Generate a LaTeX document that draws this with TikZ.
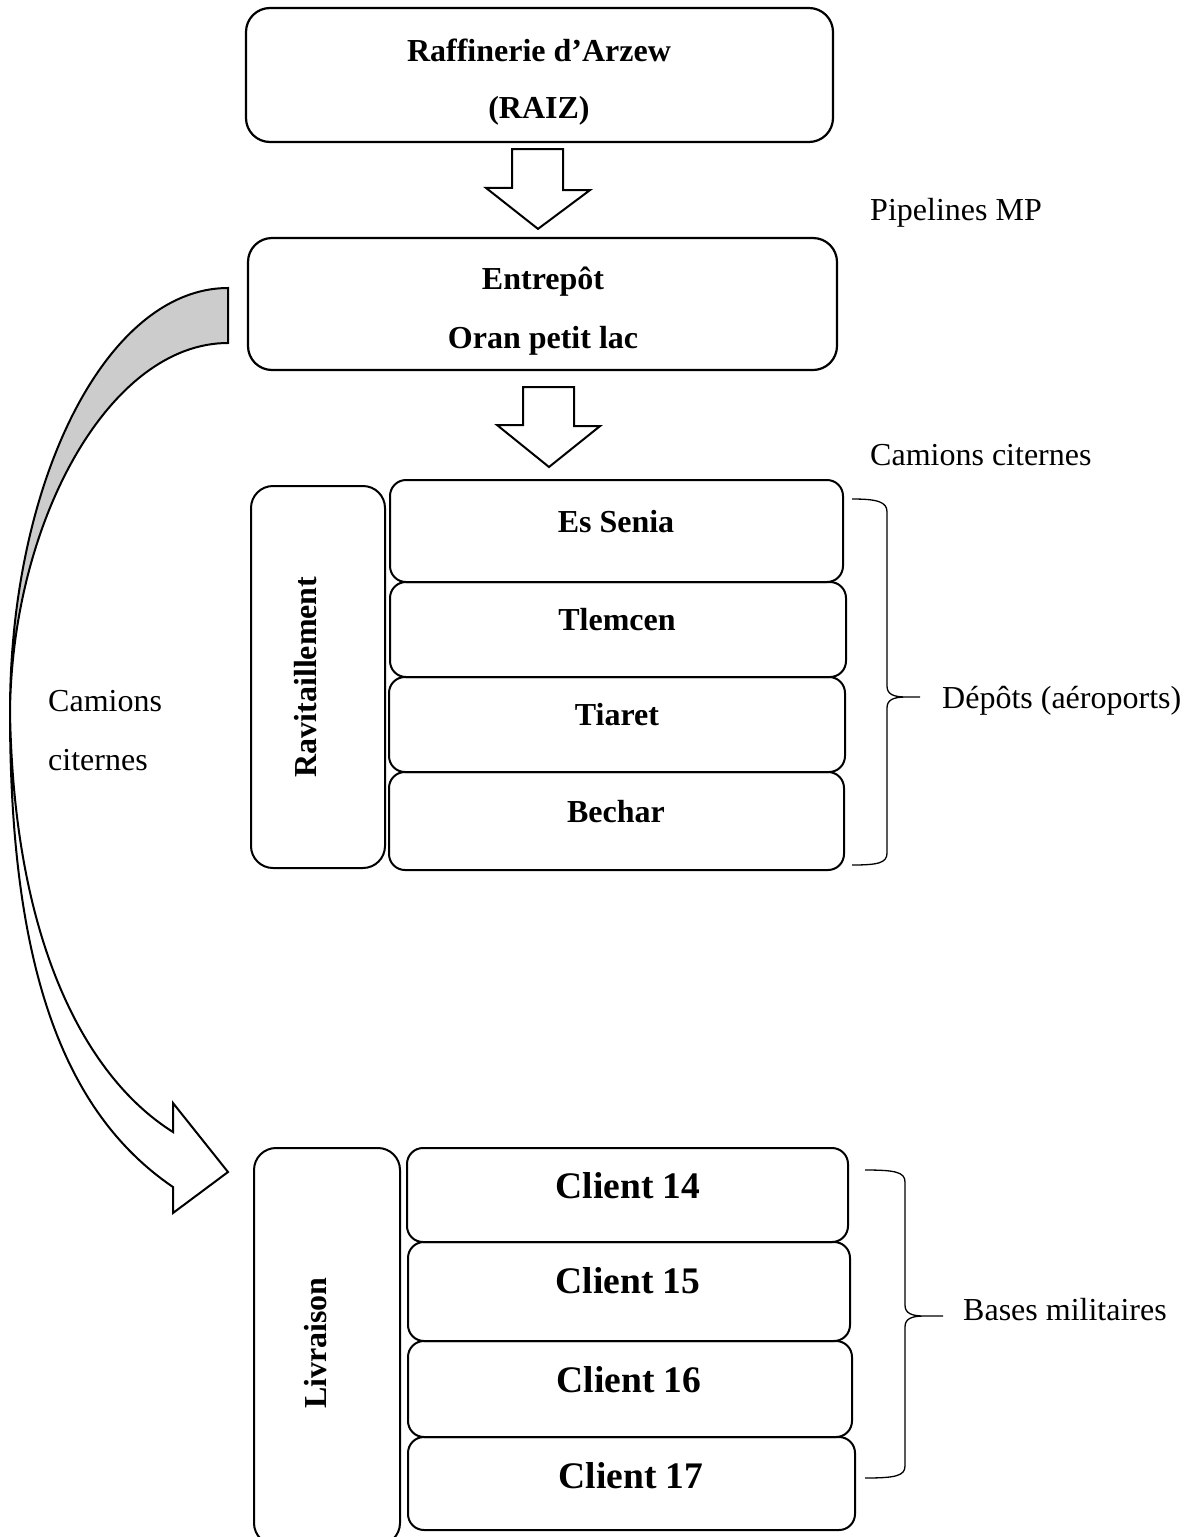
\documentclass[tikz,border=0pt]{standalone}
\usepackage{fontspec}
\setmainfont{Liberation Serif}
\usetikzlibrary{calc}
\begin{document}
\begin{tikzpicture}[x=1pt,y=-1pt,
  bigbox/.style={draw, line width=2.2pt, rounded corners=24pt, inner sep=0pt},
  dbox/.style={draw, line width=2pt, rounded corners=16pt, inner sep=0pt},
  sidebox/.style={draw, line width=2pt, rounded corners=22pt, inner sep=0pt},
  blbl/.style={font=\bfseries\fontsize{32}{38}\selectfont, inner sep=0pt, anchor=base},
  clbl/.style={font=\bfseries\fontsize{37.5}{44}\selectfont, inner sep=0pt, anchor=base},
  rlbl/.style={font=\bfseries\fontsize{32}{38}\selectfont, inner sep=0pt, rotate=90},
  txt/.style={font=\fontsize{32}{38}\selectfont, inner sep=0pt, anchor=base west},
  blockarrow/.style={draw, line width=2pt, fill=white, line join=miter},
  bracestyle/.style={draw, line width=1.3pt},
]
\useasboundingbox (0,0) rectangle (1190,1537);

% top boxes
\node[bigbox, minimum width=587, minimum height=134] (raf) at (539.5,75) {};
\node[blbl] (raft1) at (539,61) {Raffinerie d’Arzew};
\node[blbl] (raft2) at (539,118) {(RAIZ)};

\node[bigbox, minimum width=589, minimum height=132] (ent) at (542.5,304) {};
\node[blbl] (entt1) at (543,289) {Entrepôt};
\node[blbl] (entt2) at (543,348) {Oran petit lac};

% block arrows
\draw[blockarrow] ($(raf.south)+(-27.5,6)$) -- ++(51,0) -- ++(0,41) -- ++(27,0) -- ($(ent.north)+(-4.5,-8)$) -- ++(-52,-41) -- ++(26,0) -- cycle;
\draw[blockarrow] ($(ent.south)+(-19.5,16)$) -- ++(51,0) -- ++(0,39) -- ++(26,0) -- (549,467) -- ++(-52,-42) -- ++(26,0) -- cycle;

\node[txt] (pipe) at (870,220) {Pipelines MP};
\node[txt] (cam1) at (870,465) {Camions citernes};

% Ravitaillement block
\node[sidebox, minimum width=134, minimum height=382] (rav) at (318,677) {};
\node[rlbl] (ravt) at (306,677) {Ravitaillement};

\node[dbox, minimum width=453, minimum height=102] (es) at (616.5,531) {};
\node[dbox, minimum width=456, minimum height=95] (tl) at (618,629.5) {};
\node[dbox, minimum width=456, minimum height=95] (ti) at (617,724.5) {};
\node[dbox, minimum width=455, minimum height=98] (be) at (616.5,821) {};
\node[blbl] (est) at (616,532) {Es Senia};
\node[blbl] (tlt) at (617,630) {Tlemcen};
\node[blbl] (tit) at (617,725) {Tiaret};
\node[blbl] (bet) at (616,822) {Bechar};

% brace 1
\draw[bracestyle] (852,499) .. controls (878,499) and (887,502) .. (887,512) -- (887,686)
  .. controls (887,694) and (893,697) .. (906,697) -- (920,697)
  (906,697) .. controls (893,697) and (887,700) .. (887,708) -- (887,853)
  .. controls (887,863) and (878,865) .. (852,865);
\node[txt] (dep) at (942,708) {Dépôts (aéroports)};

% Livraison block
\node[sidebox, minimum width=146, minimum height=397] (liv) at (327,1346.5) {};
\node[rlbl] (livt) at (316,1343) {Livraison};

\node[dbox, minimum width=441, minimum height=94] (c14) at (627.5,1195) {};
\node[dbox, minimum width=442, minimum height=99] (c15) at (629,1291.5) {};
\node[dbox, minimum width=444, minimum height=96] (c16) at (630,1389) {};
\node[dbox, minimum width=447, minimum height=93] (c17) at (631.5,1483.5) {};
\node[clbl] (c14t) at (628,1198) {Client 14};
\node[clbl] (c15t) at (628,1293) {Client 15};
\node[clbl] (c16t) at (629,1392) {Client 16};
\node[clbl] (c17t) at (631,1488) {Client 17};

% brace 2
\draw[bracestyle] (865,1170) .. controls (895,1170) and (905,1172) .. (905,1182) -- (905,1305)
  .. controls (905,1313) and (911,1316) .. (924,1316) -- (943,1316)
  (924,1316) .. controls (911,1316) and (905,1319) .. (905,1327) -- (905,1466)
  .. controls (905,1476) and (895,1478) .. (865,1478);
\node[txt] (bases) at (963,1320) {Bases militaires};

% curved arrow
\coordinate (P) at (10,712);
\filldraw[line width=2pt, fill=gray!40, line join=miter] (228,288) .. controls (107,288) and (10,480) .. (P)
  .. controls (12,520) and (110,343) .. (228,343) -- cycle;
\draw[line width=2pt, line join=miter] (P) .. controls (10,960) and (60,1110) .. (173,1187)
  -- (173,1213) -- (228,1172) -- (173,1103) -- (173,1132)
  .. controls (90,1080) and (14,950) .. (P);
\node[txt] (cam2a) at (48,711) {Camions};
\node[txt] (cam2b) at (48,770) {citernes};
\end{tikzpicture}
\end{document}
